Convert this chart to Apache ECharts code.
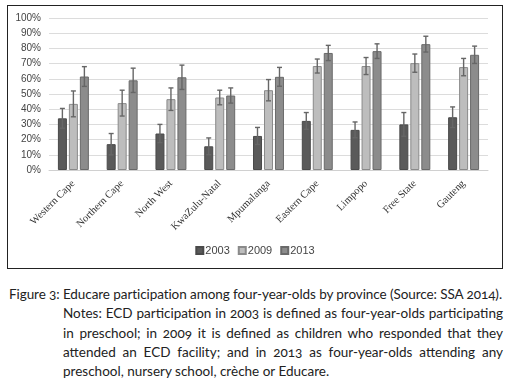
<!DOCTYPE html>
<html>
<head>
<meta charset="utf-8">
<script src="https://cdn.jsdelivr.net/npm/echarts@6/dist/echarts.min.js"></script>
<style>
  html, body { margin: 0; padding: 0; background: #fff; }
  body { width: 511px; height: 388px; position: relative; overflow: hidden; }
  #chart {
    position: absolute; left: 7px; top: 5px; width: 494px; height: 262px;
    border: 1.5px solid #222;
  }
  #caption {
    position: absolute; left: 9px; top: 285px; width: 494px;
    font-family: Lato, "Noto Sans", sans-serif; font-size: 13.5px;
    line-height: 19.3px; color: #222; font-feature-settings: "onum";
  }
  #caption .title { white-space: nowrap; letter-spacing: -0.08px; }
  #caption .notes { margin-left: 54px; text-align: justify; }
</style>
</head>
<body>
<div id="chart"></div>
<div id="caption">
  <div class="title">Figure 3: Educare participation among four-year-olds by province (Source: SSA 2014).</div>
  <div class="notes">Notes: ECD participation in 2003 is defined as four-year-olds participating in preschool; in 2009 it is defined as children who responded that they attended an ECD facility; and in 2013 as four-year-olds attending any preschool, nursery school, crèche or Educare.</div>
</div>
<script>
// provinces on the x axis
const provinces = ["Western Cape", "Northern Cape", "North West", "KwaZulu-Natal", "Mpumalanga",
  "Eastern Cape", "Limpopo", "Free State", "Gauteng"];
const years = ["2003", "2009", "2013"];

// participation (%) per year
const values2003 = [34, 17, 24, 15.6, 22.4, 32.3, 26.4, 30, 34.7];
const values2009 = [43.5, 44, 46.6, 47.7, 52.5, 68.4, 68.4, 70.3, 67.7];
const values2013 = [61.5, 59, 61, 49, 61.3, 77, 78.2, 82.8, 75.8];

// error bar half widths (%)
const err2003 = [6.5, 7, 6, 5.5, 5.6, 5.5, 5.2, 7.8, 6.8];
const err2009 = [8.5, 8.5, 7.4, 4.8, 7, 4.6, 5.6, 6, 5.7];
const err2013 = [6.5, 8, 8, 5, 6.2, 5, 4.8, 5.2, 5.7];

const allValues = [values2003, values2009, values2013];
const allErrors = [err2003, err2009, err2013];
const colors = ["#5a5a5a", "#bdbdbd", "#8c8c8c"];
const borders = ["#4a4a4a", "#8a8a8a", "#6a6a6a"];

const barWidth = 9;
const barStep = 11;

const chart = echarts.init(document.getElementById("chart"));

const barSeries = years.map((y, i) => ({
  name: y,
  type: "bar",
  data: allValues[i],
  barWidth: barWidth,
  barGap: "22%",
  itemStyle: {color: colors[i], borderColor: borders[i], borderWidth: 1},
  z: 2
}));

const errorSeries = years.map((y, i) => ({
  type: "custom",
  data: provinces.map((p, k) => [k, allValues[i][k] - allErrors[i][k], allValues[i][k] + allErrors[i][k]]),
  z: 5,
  renderItem: (params, api) => {
    const lo = api.coord([api.value(0), api.value(1)]);
    const hi = api.coord([api.value(0), api.value(2)]);
    const x = lo[0] + (i - 1) * barStep;
    const cap = 2.5;
    const style = {stroke: "#666", lineWidth: 1.4};
    return {
      type: "group",
      children: [
        {type: "line", shape: {x1: x, y1: lo[1], x2: x, y2: hi[1]}, style},
        {type: "line", shape: {x1: x - cap, y1: hi[1], x2: x + cap, y2: hi[1]}, style},
        {type: "line", shape: {x1: x - cap, y1: lo[1], x2: x + cap, y2: lo[1]}, style}
      ]
    };
  }
}));

chart.setOption({
  animation: false,
  grid: {left: 41, right: 14, top: 12, bottom: 98},
  legend: {
    data: years,
    bottom: 7,
    left: "center",
    itemWidth: 7,
    itemHeight: 7,
    itemGap: 8,
    icon: "rect",
    textStyle: {fontFamily: "Liberation Sans", fontSize: 11, color: "#444", padding: [0, 0, 0, -3]}
  },
  xAxis: {
    type: "category",
    data: provinces,
    axisLine: {lineStyle: {color: "#d0d0d0"}},
    axisTick: {show: false},
    axisLabel: {
      rotate: 45,
      interval: 0,
      margin: 12,
      fontFamily: "Liberation Serif",
      fontSize: 10.5,
      color: "#333"
    }
  },
  yAxis: {
    type: "value",
    min: 0,
    max: 100,
    interval: 10,
    axisLine: {show: false},
    axisTick: {show: false},
    splitLine: {lineStyle: {color: "#dcdcdc"}},
    axisLabel: {formatter: "{value}%", fontFamily: "Liberation Sans", fontSize: 10, color: "#444", margin: 8}
  },
  series: [...barSeries, ...errorSeries]
});
</script>
</body>
</html>
